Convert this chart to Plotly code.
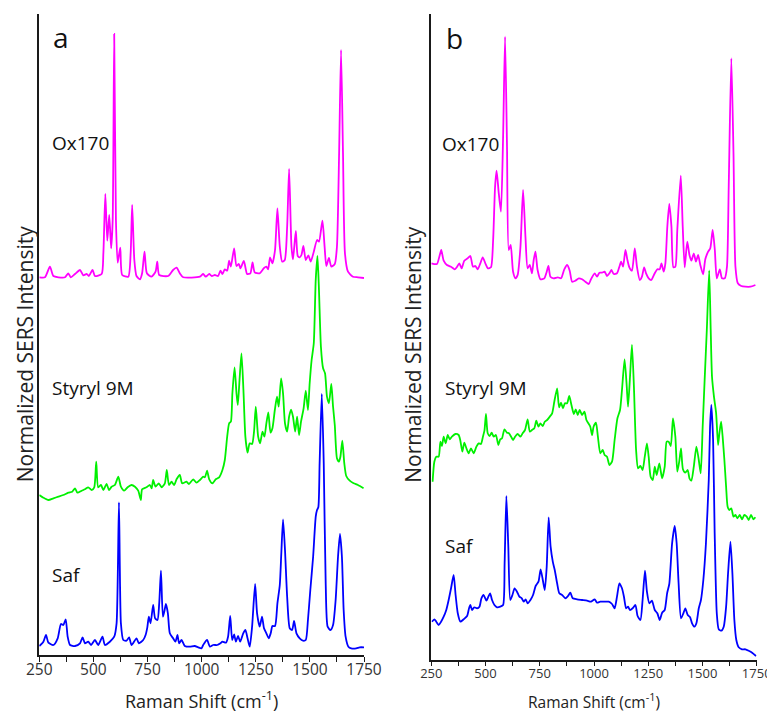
import plotly.graph_objects as go

# ---------------- Panel a ----------------
ox_a_x = [250, 276, 299, 315, 338, 369, 384, 395, 415, 438, 453, 469, 479, 496, 507, 538, 546, 555, 564, 573,
          582, 589, 596, 604, 612, 624, 633, 661, 672, 679, 689, 699, 715, 725, 736, 747, 768, 787, 795, 804,
          845, 868, 884, 899, 915, 992, 1007, 1019, 1035, 1047, 1061, 1076, 1087, 1096, 1107, 1118, 1127, 1135,
          1150, 1161, 1172, 1179, 1195, 1210, 1225, 1235, 1245, 1268, 1287, 1299, 1307, 1316, 1327, 1339, 1350,
          1361, 1372, 1384, 1395, 1404, 1415, 1422, 1435, 1444, 1453, 1461, 1470, 1481, 1493, 1504, 1518, 1533,
          1542, 1558, 1568, 1576, 1588, 1599, 1615, 1625, 1635, 1644, 1653, 1662, 1676, 1699, 1722, 1750]
ox_a_y = [377.7, 377.7, 388.3, 379, 377.7, 377.7, 381.7, 377.7, 381, 385, 379.7, 381, 379, 385, 379, 381, 401.7,
          461, 414.3, 440, 406.7, 435, 621, 435, 392.3, 407.3, 380, 378.3, 401.7, 450, 395, 379, 375.7, 381.7,
          403.3, 381.7, 378.3, 383.3, 393.3, 380, 379, 385, 387.3, 381.7, 377.7, 378.3, 381, 378.3, 381, 379, 380,
          379, 384.3, 381, 385.7, 384.3, 394.3, 388.3, 406.7, 389, 391, 386.7, 394, 381, 381.7, 392.7, 382.7,
          381.7, 386.7, 388.3, 385.7, 397.7, 391.7, 405, 446.7, 408.3, 393.3, 395, 428.3, 486, 408.3, 395.7, 424,
          399, 397.7, 400, 409, 395, 399.7, 393.3, 403.3, 415, 413.3, 434.3, 408.3, 389, 397, 388.3, 391, 408.3,
          501.7, 605, 501.7, 401.7, 383.3, 378.3, 377.7, 377]

sty_a_x = [250, 269, 292, 315, 338, 361, 384, 402, 415, 426, 446, 461, 476, 492, 504, 513, 522, 535, 546, 561,
           572, 584, 599, 615, 627, 642, 658, 676, 692, 707, 719, 725, 745, 761, 769, 776, 787, 802, 815, 830,
           839, 849, 861, 873, 884, 899, 910, 930, 941, 961, 976, 992, 1007, 1015, 1025, 1035, 1050, 1065, 1081,
           1096, 1107, 1118, 1127, 1135, 1142, 1152, 1161, 1167, 1175, 1184, 1193, 1202, 1212, 1222, 1233, 1242,
           1250, 1261, 1270, 1281, 1290, 1299, 1308, 1318, 1327, 1338, 1348, 1356, 1367, 1376, 1385, 1395, 1404,
           1413, 1422, 1432, 1441, 1450, 1459, 1471, 1481, 1491, 1499, 1508, 1518, 1527, 1535, 1542, 1551, 1561,
           1570, 1579, 1588, 1599, 1607, 1615, 1625, 1634, 1641, 1650, 1659, 1668, 1684, 1702, 1722, 1748]
sty_a_y = [160, 157.3, 155, 156.7, 158.3, 160, 162.3, 163.3, 166.7, 162.3, 164.3, 165.7, 167.7, 165, 167.7, 193.3,
           167.7, 170, 165, 171, 165, 168.3, 170, 178.3, 168.3, 164.3, 167.7, 170, 168.3, 164.3, 155, 165.7, 167.7,
           170, 166.7, 175, 168.3, 171.7, 167.7, 171.7, 185, 170, 173.3, 170, 175.7, 180, 171.7, 173.3, 171, 175.7,
           172.3, 175, 178.3, 177.7, 184.3, 175.7, 171.7, 175.7, 177.7, 185, 195, 218.3, 231.7, 233.3, 261.7,
           287.7, 261.7, 250, 275, 301.7, 265, 218.3, 202.3, 211.7, 211, 223.3, 248.3, 218.3, 211.7, 223.3, 218.3,
           231.7, 242.7, 222.3, 226.7, 245, 258.3, 248.3, 276.7, 261.7, 231.7, 223.3, 238.3, 245.3, 238.3, 223.3,
           238.3, 220, 233.3, 246.7, 264.3, 245, 271.7, 295, 311.7, 375, 399, 365, 308.3, 286.7, 281.7, 258.3,
           251.7, 271, 248.3, 230, 196.7, 193.3, 198.3, 214.3, 191.7, 179, 174.3, 171.7, 170, 166.7]

saf_a_x = [250, 269, 281, 292, 315, 335, 350, 361, 372, 381, 392, 415, 438, 450, 461, 476, 489, 507, 522, 542,
           553, 576, 596, 607, 618, 627, 638, 653, 665, 676, 699, 710, 730, 741, 749, 756, 764, 776, 785, 796,
           804, 812, 821, 829, 835, 844, 853, 868, 879, 888, 896, 907, 922, 945, 968, 984, 999, 1007, 1025, 1038,
           1053, 1072, 1087, 1096, 1112, 1122, 1132, 1141, 1150, 1158, 1168, 1178, 1192, 1202, 1212, 1222, 1233,
           1247, 1256, 1268, 1279, 1288, 1299, 1310, 1319, 1327, 1339, 1350, 1361, 1368, 1376, 1385, 1395, 1407,
           1418, 1427, 1438, 1453, 1468, 1481, 1491, 1502, 1515, 1527, 1533, 1539, 1545, 1555, 1564, 1573, 1582,
           1595, 1607, 1619, 1630, 1639, 1648, 1656, 1665, 1678, 1691, 1714, 1730, 1750]
saf_a_y = [9, 13.3, 20, 12.3, 10, 16.7, 31, 30, 35.7, 18.3, 10, 9, 11.7, 17.7, 11.7, 13.3, 10, 15, 10, 18.3, 10,
           13.3, 18.3, 31.7, 152.7, 31.7, 15, 14.3, 17.7, 10, 16.7, 11.7, 15, 20, 27.7, 38.3, 31.7, 50, 36.7, 35,
           51.7, 84.3, 38.3, 45, 51, 41.7, 21.7, 16.7, 13.3, 20, 11.7, 15, 9, 8.3, 9, 7.7, 6.7, 10, 15, 8.3, 10, 10,
           11.7, 13.3, 12.3, 18.3, 39, 15, 20.7, 13.3, 19, 13.3, 21.7, 25, 16.7, 8.3, 28.3, 71, 41.7, 28.3, 38.3,
           26.7, 21.7, 16.7, 21.7, 29, 29, 51.7, 70, 101.7, 135.7, 105, 58.3, 26.7, 25, 34, 21.7, 16.7, 14.3, 15,
           35, 65, 98.3, 138.3, 145, 147.7, 191.7, 261, 191.7, 71.7, 28.3, 25, 30, 55, 98.3, 121, 98.3, 45, 18.3,
           8.3, 6.7, 6.7, 7.7, 7.7]

# ---------------- Panel b ----------------
ox_b_x = [250, 276, 287, 296, 307, 322, 341, 358, 369, 379, 390, 402, 418, 430, 442, 453, 464, 476, 487, 499,
          511, 525, 535, 544, 551, 561, 571, 581, 590, 599, 607, 616, 627, 638, 648, 661, 673, 684, 694, 704,
          714, 722, 730, 740, 753, 771, 780, 790, 799, 814, 833, 848, 863, 876, 888, 899, 914, 930, 945, 960,
          976, 986, 1003, 1014, 1025, 1037, 1049, 1060, 1071, 1080, 1091, 1106, 1117, 1125, 1134, 1145, 1154,
          1163, 1175, 1188, 1198, 1211, 1221, 1231, 1240, 1252, 1264, 1280, 1292, 1303, 1311, 1321, 1329, 1338,
          1347, 1357, 1366, 1375, 1384, 1400, 1409, 1418, 1430, 1440, 1449, 1460, 1470, 1480, 1490, 1503, 1513,
          1526, 1536, 1547, 1557, 1566, 1580, 1590, 1603, 1613, 1621, 1633, 1643, 1652, 1663, 1679, 1698, 1721,
          1744]
ox_b_y = [396.2, 395.5, 402.8, 409.5, 398.8, 394.5, 392.8, 390.2, 392.8, 396.2, 391.2, 398.8, 401.2, 403.5, 392.8,
          393.5, 390.2, 396.2, 402.2, 396.2, 391.2, 392.2, 419.5, 472.8, 488.8, 466.2, 447.8, 522.8, 622.8, 512.8,
          409.5, 414.5, 387.8, 381.2, 384.5, 412.8, 469.5, 422.8, 391.2, 394.5, 386.2, 399.5, 407.8, 389.5, 380.2,
          381.2, 386.2, 393.5, 382.8, 381.2, 382.2, 381.2, 390.2, 394.5, 388.8, 377.8, 378.8, 381.2, 380.2, 377.8,
          375.5, 380.2, 386.2, 382.8, 386.8, 386.8, 387.8, 383.5, 386.2, 389.5, 385.5, 386.2, 392.8, 397.8, 392.8,
          409.5, 399.5, 392.2, 388.8, 411.2, 392.8, 379.5, 382.8, 392.2, 386.2, 381.2, 379.5, 386.2, 390.2, 390.2,
          396.2, 387.8, 396.2, 432.8, 455.5, 432.8, 392.2, 392.8, 429.5, 483.8, 432.8, 392.2, 417.8, 404.5, 398.8,
          406.2, 397.8, 404.5, 394.5, 385.2, 400.2, 407.8, 411.2, 429.5, 409.5, 381.2, 390.2, 381.2, 381.2, 392.8,
          472.8, 601.2, 506.2, 392.8, 376.2, 373.5, 372.8, 372.8, 374.5]

sty_b_x = [256, 264, 273, 284, 292, 299, 307, 316, 326, 335, 345, 361, 376, 384, 393, 402, 412, 422, 433, 445,
           458, 468, 479, 488, 495, 502, 510, 519, 528, 538, 548, 559, 568, 576, 587, 599, 608, 618, 627, 636,
           648, 661, 671, 682, 694, 704, 714, 725, 734, 744, 753, 764, 773, 784, 796, 807, 817, 830, 839, 848,
           857, 866, 876, 886, 896, 907, 916, 925, 934, 945, 956, 965, 974, 983, 991, 998, 1009, 1018, 1029, 1040,
           1049, 1060, 1071, 1083, 1095, 1108, 1120, 1129, 1141, 1151, 1157, 1166, 1175, 1184, 1194, 1203, 1214,
           1224, 1234, 1244, 1252, 1261, 1271, 1280, 1289, 1301, 1314, 1326, 1335, 1344, 1354, 1364, 1375, 1384,
           1394, 1401, 1410, 1421, 1432, 1440, 1449, 1460, 1472, 1483, 1492, 1501, 1510, 1520, 1531, 1538, 1544,
           1553, 1563, 1572, 1578, 1586, 1593, 1601, 1609, 1616, 1624, 1633, 1643, 1652, 1661, 1672, 1682, 1693,
           1704, 1713, 1724, 1735, 1744]
sty_b_y = [177.8, 197.8, 202.8, 202.8, 217.8, 213.5, 222.8, 216.2, 224.5, 220.2, 222.8, 225.5, 224.5, 218.8,
           207.8, 216.8, 211.2, 206.2, 211.2, 206.2, 212.8, 216.2, 215.5, 222.8, 228.8, 245.5, 226.2, 223.5, 226.8,
           222.8, 224.5, 214.5, 220.2, 221.2, 230.2, 226.8, 226.2, 222.8, 219.5, 222.8, 225.5, 222.8, 226.2, 229.5,
           240.2, 227.8, 229.5, 231.2, 238.8, 232.8, 236.2, 233.5, 237.8, 239.5, 242.8, 246.2, 257.8, 271.2, 252.2,
           256.8, 251.2, 256.2, 256.2, 263.5, 254.5, 245.5, 250.2, 244.5, 249.5, 244.5, 247.8, 239.5, 236.2, 232.8,
           224.5, 232.8, 236.8, 222.8, 206.2, 209.5, 204.5, 202.8, 194.5, 197.8, 219.5, 241.2, 249.5, 269.5, 300.2,
           272.8, 252.8, 282.8, 314.5, 272.8, 209.5, 191.2, 193.5, 189.5, 202.8, 216.2, 202.8, 182.8, 179.5, 192.8,
           184.5, 196.2, 181.2, 192.8, 217.8, 217.8, 213.5, 241.2, 222.8, 187.8, 199.5, 211.2, 190.2, 186.8, 189.5,
           181.2, 178.8, 192.8, 212.8, 199.5, 186.2, 232.8, 279.5, 329.5, 389, 329.5, 282.8, 262.8, 246.2, 214.5,
           226.2, 237.8, 222.8, 199.5, 172.8, 152.8, 149.5, 151.2, 142.8, 144.5, 141.2, 144.5, 140.2, 144.5, 142.8,
           139.5, 144.5, 140.2, 142.2]

saf_b_x = [253, 264, 273, 284, 295, 307, 319, 330, 341, 353, 362, 372, 384, 399, 415, 424, 430, 438, 448, 461,
           472, 481, 491, 504, 513, 521, 530, 541, 553, 568, 581, 588, 596, 605, 614, 624, 634, 645, 656, 667,
           676, 685, 694, 707, 719, 731, 744, 754, 764, 773, 782, 791, 800, 810, 819, 830, 840, 853, 868, 880,
           891, 902, 922, 945, 968, 986, 1003, 1014, 1029, 1045, 1068, 1083, 1095, 1106, 1117, 1129, 1138, 1148,
           1157, 1166, 1178, 1191, 1201, 1214, 1224, 1235, 1244, 1255, 1267, 1280, 1292, 1303, 1314, 1326, 1337,
           1347, 1360, 1372, 1381, 1390, 1401, 1412, 1421, 1432, 1443, 1452, 1463, 1472, 1483, 1493, 1504, 1516,
           1529, 1535, 1541, 1549, 1556, 1566, 1575, 1587, 1598, 1609, 1618, 1629, 1638, 1647, 1656, 1667, 1682,
           1698, 1713, 1729, 1747]
saf_b_y = [37.8, 40.2, 37.8, 34.5, 37.8, 42.8, 49.5, 59.5, 71.2, 84.5, 64.5, 46.2, 37.8, 40.2, 43.5, 51.2, 54.5,
           49.5, 52.2, 51.2, 52.8, 61.2, 64.5, 58.8, 62.8, 66.2, 59.5, 54.5, 52.2, 52.8, 54.5, 96.2, 163.5, 112.8,
           59.5, 64.5, 71.2, 67.8, 62.8, 61.2, 57.8, 60.2, 56.2, 59.5, 64.5, 73.5, 77.8, 90.2, 79.5, 69.5, 92.8,
           142.2, 112.8, 97.8, 89.5, 76.2, 66.2, 64.5, 61.2, 63.5, 66.8, 61.2, 60.2, 59.5, 58.8, 57.8, 60.2, 56.8,
           57.8, 57.8, 57.8, 55.5, 51.2, 62.8, 76.2, 71.2, 62.8, 51.2, 52.8, 49.5, 51.2, 54.5, 43.5, 39.5, 59.5,
           88.8, 67.8, 56.2, 58.8, 49.5, 46.2, 39.5, 46.8, 49.5, 66.2, 75.5, 116.2, 133.5, 116.2, 76.2, 41.2, 46.2,
           51.2, 44.5, 42.2, 36.2, 32.8, 36.2, 51.2, 59.5, 79.5, 116.2, 179.5, 232.8, 254.5, 219.5, 129.5, 46.2,
           30.2, 28.8, 32.8, 52.8, 86.2, 117.8, 86.2, 39.5, 19.5, 12.2, 10.2, 10.2, 8.8, 6.8, 3.5]

series_names = ["Ox170", "Styryl 9M", "Saf"]
colors = ["#ff00ff", "#00f000", "#0000ff"]
panel_labels = ["a", "b"]
x_ticks = [250, 500, 750, 1000, 1250, 1500, 1750]

FONT = "Open Sans"
fig = go.Figure()

panel_a = [(ox_a_x, ox_a_y), (sty_a_x, sty_a_y), (saf_a_x, saf_a_y)]
panel_b = [(ox_b_x, ox_b_y), (sty_b_x, sty_b_y), (saf_b_x, saf_b_y)]
for (xs, ys), name, c in zip(panel_a, series_names, colors):
    fig.add_trace(go.Scatter(x=xs, y=ys, mode="lines", name=name,
                             line=dict(color=c, width=1.8, shape="spline", smoothing=0.6),
                             xaxis="x", yaxis="y", showlegend=False))
for (xs, ys), name, c in zip(panel_b, series_names, colors):
    fig.add_trace(go.Scatter(x=xs, y=ys, mode="lines", name=name,
                             line=dict(color=c, width=1.8, shape="spline", smoothing=0.6),
                             xaxis="x2", yaxis="y2", showlegend=False))

# page body has an 8 px default margin; size the figure to fill the rest of the window
OFF = 8
W, H = 775 - OFF, 715 - OFF
def px(v): return (v - OFF) / W
def py(v): return 1 - (v - OFF) / H

def xax(domain, anchor, fsize, standoff):
    return dict(domain=domain, anchor=anchor, range=[250, 1750], showline=True, linecolor="#1a1a1a",
                linewidth=1.5, ticks="outside", ticklen=5, tickwidth=1.3, tickcolor="#1a1a1a",
                tickvals=x_ticks, showgrid=False, zeroline=False, automargin=False,
                ticklabelstandoff=standoff,
                tickfont=dict(family=FONT, size=fsize, color="#333333"),
                minor=dict(dtick=125, tick0=250, ticks="outside", ticklen=5, tickwidth=1.3,
                           tickcolor="#1a1a1a", showgrid=False))

def yax(domain, anchor, top):
    return dict(domain=domain, anchor=anchor, range=[0, top], showline=True, linecolor="#1a1a1a",
                linewidth=1.5, ticks="", showticklabels=False, showgrid=False, zeroline=False,
                automargin=False)

fig.update_layout(
    template="none",
    width=W, height=H, margin=dict(l=0, r=0, t=0, b=0, pad=0),
    paper_bgcolor="white", plot_bgcolor="white",
    xaxis=xax([px(39.3), px(364)], "y", 15.5, -5),
    xaxis2=xax([px(431.3), px(756.7)], "y2", 13, -4),
    yaxis=yax([py(655), py(14)], "x", 641),
    yaxis2=yax([py(659.5), py(14)], "x2", 645.5),
)

ann = []
lab_font = dict(family=FONT, size=19, color="#111111")
# panel a labels
ann.append(dict(text=panel_labels[0], x=304, y=618, xref="x", yref="y", xanchor="left", yanchor="middle",
                showarrow=False, font=dict(family=FONT, size=28, color="#111111")))
for name, yv in zip(series_names, [512, 267, 80]):
    ann.append(dict(text=name, x=299, y=yv, xref="x", yref="y", xanchor="left", yanchor="middle",
                    showarrow=False, font=lab_font))
# panel b labels
ann.append(dict(text=panel_labels[1], x=308, y=621.5, xref="x2", yref="y2", xanchor="left", yanchor="middle",
                showarrow=False, font=dict(family=FONT, size=28, color="#111111")))
for name, xv, yv in zip(series_names, [290, 304, 304], [515.5, 271.5, 113.5]):
    ann.append(dict(text=name, x=xv, y=yv, xref="x2", yref="y2", xanchor="left", yanchor="middle",
                    showarrow=False, font=lab_font))
# axis titles
ann.append(dict(text="Normalized SERS Intensity", x=px(8.5), y=py(354.7), xref="paper", yref="paper",
                xanchor="left", yanchor="middle", textangle=-90, showarrow=False,
                font=dict(family=FONT, size=21, color="#222222")))
ann.append(dict(text="Normalized SERS Intensity", x=px(413), y=py(354.7), xref="paper", yref="paper",
                xanchor="center", yanchor="middle", textangle=-90, showarrow=False,
                font=dict(family=FONT, size=21, color="#222222")))
for xc, fs in [(201.6, 18), (594, 15.5)]:
    ann.append(dict(text="Raman Shift (cm<sup>-1</sup>)", x=px(xc), y=0, xref="paper", yref="paper",
                    xanchor="center", yanchor="bottom", showarrow=False,
                    font=dict(family=FONT, size=fs, color="#222222")))
fig.update_layout(annotations=ann)

fig.write_html("out.html")
